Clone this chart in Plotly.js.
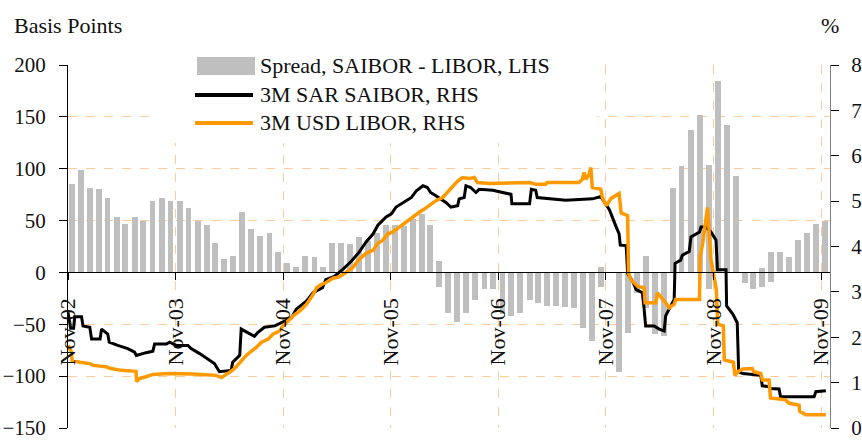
<!DOCTYPE html>
<html>
<head>
<meta charset="utf-8">
<script src="https://cdn.plot.ly/plotly-3.0.1.min.js"></script>
<style>html,body{margin:0;padding:0;background:#fff;}#chart{width:862px;height:441px;}</style>
</head>
<body>
<div id="chart"></div>
<script>
// ---- Data ----
const tickDates = ['2002-11-01','2003-11-01','2004-11-01','2005-11-01','2006-11-01','2007-11-01','2008-11-01','2009-11-01'];
const tickLabels = ['Nov-02','Nov-03','Nov-04','Nov-05','Nov-06','Nov-07','Nov-08','Nov-09'];

const spreadDates = [
 '2002-11-15','2002-12-15','2003-01-15','2003-02-15','2003-03-15','2003-04-15','2003-05-15','2003-06-15','2003-07-15','2003-08-15','2003-09-15','2003-10-15',
 '2003-11-15','2003-12-15','2004-01-15','2004-02-15','2004-03-15','2004-04-15','2004-05-15','2004-06-15','2004-07-15','2004-08-15','2004-09-15','2004-10-15',
 '2004-11-15','2004-12-15','2005-01-15','2005-02-15','2005-03-15','2005-04-15','2005-05-15','2005-06-15','2005-07-15','2005-08-15','2005-09-15','2005-10-15',
 '2005-11-15','2005-12-15','2006-01-15','2006-02-15','2006-03-15','2006-04-15','2006-04-15','2006-05-15','2006-06-15','2006-07-15','2006-08-15','2006-09-15','2006-10-15',
 '2006-11-15','2006-12-15','2007-01-15','2007-02-15','2007-03-15','2007-04-15','2007-05-15','2007-06-15','2007-07-15','2007-08-15','2007-09-15','2007-10-15','2007-10-15',
 '2007-12-15','2008-01-15','2008-02-15','2008-03-15','2008-03-15','2008-04-15','2008-05-15','2008-06-15','2008-07-15','2008-08-15','2008-09-15','2008-10-15','2008-10-15',
 '2008-11-15','2008-12-15','2009-01-15','2009-02-15','2009-03-15','2009-04-15','2009-04-15','2009-05-15','2009-05-15','2009-06-15','2009-07-15','2009-08-15','2009-09-15','2009-10-15',
 '2009-11-15'];
const spreadBp = [
 85,99,81,80,72,53,47,53,50,69,72,69,
 69,62,50,46,28,13,16,58,42,35,38,20,
 9,5,16,15,5,28,28,27,34,30,38,46,
 46,45,52,56,46,11,-14,-39,-48,-39,-27,-16,-16,
 -40,-42,-39,-27,-29,-32,-32,-33,-34,-54,-66,5,-14,
 -96,-58,-20,16,-34,-59,-61,81,103,137,152,104,-16,
 185,142,93,-10,-16,4,-14,20,-9,20,15,31,38,47,
 50];

const saiborDates = ['2002-11-01','2002-11-10','2002-11-20','2002-11-24','2002-12-17','2002-12-22','2003-01-14','2003-01-20','2003-02-18','2003-02-23',
 '2003-03-16','2003-03-21','2003-04-19','2003-05-23','2003-06-15','2003-06-21','2003-07-24','2003-08-16','2003-08-22','2003-10-01',
 '2003-10-12','2003-11-04','2003-12-13','2003-12-24','2004-01-22','2004-02-14','2004-03-12','2004-03-29','2004-05-08','2004-05-13',
 '2004-06-06','2004-06-11','2004-07-15','2004-07-26','2004-08-07','2004-08-29','2004-10-03','2004-10-25','2004-11-29','2004-12-15',
 '2005-01-19','2005-02-10','2005-03-14','2005-03-25','2005-04-23','2005-05-21','2005-06-19','2005-07-17','2005-08-09','2005-09-02',
 '2005-09-18','2005-10-16','2005-11-03','2005-11-19','2005-12-23','2006-01-10','2006-01-27','2006-02-18','2006-03-05','2006-03-16',
 '2006-04-03','2006-05-07','2006-05-24','2006-06-16','2006-06-21','2006-07-08','2006-07-14','2006-07-30','2006-08-17','2006-08-28',
 '2006-10-13','2006-11-16','2006-12-14','2006-12-17','2007-02-15','2007-02-21','2007-03-08','2007-03-13','2007-04-22','2007-06-18',
 '2007-09-17','2007-10-15','2007-10-20','2007-11-13','2007-12-05','2007-12-16','2007-12-20','2008-01-09','2008-01-14','2008-01-31',
 '2008-02-12','2008-03-04','2008-03-10','2008-03-15','2008-04-13','2008-04-30','2008-05-17','2008-05-22','2008-06-14','2008-06-20',
 '2008-06-23','2008-07-12','2008-07-18','2008-08-10','2008-08-16','2008-09-14','2008-09-19','2008-10-06','2008-10-23','2008-11-09',
 '2008-11-14','2008-12-13','2008-12-15','2009-01-05','2009-01-20','2009-01-25','2009-02-08','2009-04-10','2009-04-15','2009-05-08',
 '2009-05-13','2009-06-11','2009-06-16','2009-10-08','2009-10-14','2009-11-17'];
const saiborPct = [2.55,2.20,2.20,2.45,2.45,2.25,2.22,1.96,1.96,2.18,
 2.07,1.89,1.82,1.75,1.67,1.60,1.66,1.69,1.85,1.85,
 1.89,1.82,1.82,1.75,1.64,1.53,1.42,1.24,1.27,1.45,
 1.60,2.18,2.07,2.02,2.11,2.22,2.25,2.32,2.43,2.62,
 2.80,2.98,3.09,3.27,3.34,3.49,3.67,3.88,4.10,4.28,
 4.47,4.65,4.72,4.87,5.01,5.08,5.23,5.34,5.30,5.19,
 5.12,4.97,4.87,4.90,5.05,5.08,5.34,5.30,5.19,5.26,
 5.24,5.19,5.15,4.94,4.94,5.26,5.24,5.08,5.05,5.02,
 5.05,5.10,5.05,4.81,4.45,4.28,4.03,4.02,3.41,3.23,
 3.05,2.98,2.62,2.25,2.25,2.18,2.14,2.47,2.76,2.83,
 3.63,3.70,3.81,3.89,4.21,4.32,4.43,4.43,4.32,4.14,
 3.49,3.49,2.69,2.51,2.32,1.24,1.20,1.16,0.93,0.91,
 0.87,0.86,0.69,0.69,0.80,0.82];

const liborDates = ['2002-11-01','2002-11-13','2002-11-15','2002-12-11','2003-01-14','2003-01-25','2003-03-10','2003-03-27','2003-04-30','2003-06-20',
 '2003-06-22','2003-07-01','2003-07-24','2003-08-16','2003-10-12','2003-12-30','2004-03-18','2004-04-05','2004-04-16','2004-05-08',
 '2004-05-25','2004-06-11','2004-06-28','2004-07-15','2004-08-02','2004-08-19','2004-09-11','2004-09-27','2004-10-20','2004-10-31',
 '2004-11-17','2004-12-04','2004-12-27','2005-01-19','2005-02-10','2005-02-22','2005-03-09','2005-03-25','2005-04-18','2005-05-10',
 '2005-06-02','2005-06-25','2005-07-17','2005-08-09','2005-09-02','2005-09-18','2005-10-05','2005-10-22','2005-11-08','2005-11-30',
 '2005-12-23','2006-01-15','2006-02-07','2006-02-24','2006-03-11','2006-04-03','2006-04-26','2006-05-12','2006-06-04','2006-06-16',
 '2006-07-02','2006-07-25','2006-08-11','2006-08-22','2006-10-02','2007-02-15','2007-03-08','2007-04-11','2007-04-16','2007-08-02',
 '2007-08-13','2007-08-19','2007-08-25','2007-09-05','2007-09-11','2007-09-16','2007-10-15','2007-10-20','2007-11-03','2007-11-19',
 '2007-12-16','2007-12-23','2008-01-14','2008-01-17','2008-01-25','2008-02-17','2008-03-10','2008-03-13','2008-04-19','2008-04-24',
 '2008-05-22','2008-06-03','2008-06-20','2008-06-25','2008-09-14','2008-09-16','2008-09-25','2008-10-11','2008-10-15','2008-10-23',
 '2008-11-04','2008-11-10','2008-11-15','2008-12-04','2008-12-07','2009-01-07','2009-01-12','2009-01-22','2009-02-08','2009-03-12',
 '2009-03-17','2009-04-10','2009-04-15','2009-05-08','2009-05-13','2009-07-03','2009-07-14','2009-08-18','2009-08-20','2009-09-10',
 '2009-11-17'];
const liborPct = [1.82,1.67,1.49,1.45,1.42,1.38,1.35,1.31,1.27,1.25,
 1.02,1.09,1.13,1.18,1.20,1.19,1.16,1.11,1.16,1.25,
 1.35,1.49,1.60,1.69,1.78,1.89,1.96,2.07,2.14,2.25,
 2.36,2.47,2.58,2.73,2.94,3.09,3.16,3.20,3.30,3.33,
 3.43,3.54,3.72,3.85,3.92,4.07,4.14,4.28,4.32,4.43,
 4.54,4.65,4.76,4.83,4.90,5.01,5.08,5.19,5.34,5.44,
 5.52,5.50,5.52,5.41,5.39,5.41,5.37,5.37,5.41,5.41,
 5.48,5.63,5.48,5.59,5.74,5.30,5.26,5.08,4.90,5.06,
 5.17,4.74,4.68,3.41,3.27,3.12,3.09,2.76,2.76,2.98,
 2.76,2.65,2.73,2.83,2.83,3.78,4.07,4.86,4.50,3.70,
 3.27,3.05,2.29,2.25,1.50,1.45,1.16,1.24,1.30,1.31,
 1.24,1.20,1.06,1.06,0.66,0.62,0.55,0.50,0.37,0.29,
 0.29];

const seriesNames = ['Spread, SAIBOR - LIBOR, LHS','3M SAR SAIBOR, RHS','3M USD LIBOR, RHS'];
const colors = {bar:'rgb(191,191,191)', saibor:'#000000', libor:'#FF9900', grid:'rgb(255,204,153)'};

// ---- Traces ----
const DAY = 86400000;
const traces = [
  {type:'bar', name:seriesNames[0], x:spreadDates, y:spreadBp, yaxis:'y', xaxis:'x',
   marker:{color:colors.bar, line:{width:0}}, width:spreadDates.map(()=>20*DAY), showlegend:false},
  {type:'scatter', mode:'lines', name:seriesNames[1], x:saiborDates, y:saiborPct, yaxis:'y2', xaxis:'x',
   line:{color:colors.saibor, width:3}, showlegend:false},
  {type:'scatter', mode:'lines', name:seriesNames[2], x:liborDates, y:liborPct, yaxis:'y2', xaxis:'x',
   line:{color:colors.libor, width:3.5}, showlegend:false}
];

// ---- Layout helpers (pixel -> paper) ----
const L = 68, R = 830, T = 65, B = 428;
const px = v => (v - L) / (R - L);
const py = v => (B - v) / (B - T);

const FONT = '"Liberation Serif", "DejaVu Serif", serif';
const textFont = {family: FONT, size: 22, color: '#111'};
const tickFont = {family: FONT, size: 21, color: '#111'};

const layout = {
  width: 862, height: 441,
  margin: {l: L, r: 862 - R, t: T, b: 441 - B, pad: 0},
  paper_bgcolor: '#fff', plot_bgcolor: '#fff',
  font: {family: FONT, size: 22, color: '#111'},
  showlegend: false,
  bargap: 0,
  xaxis: {
    type: 'date', range: ['2002-11-01', '2009-12-01'],
    tickmode: 'array', tickvals: tickDates, ticktext: tickLabels, tickangle: -90,
    tickfont: textFont,
    anchor: 'free', position: 150 / 350,
    showline: true, linecolor: '#000', linewidth: 1,
    ticks: 'outside', ticklen: 7, tickcolor: '#000', tickwidth: 1,
    ticklabelstandoff: 9, ticklabeloverflow: 'allow',
    showgrid: true, gridcolor: colors.grid, griddash: 'dash', gridwidth: 1,
    zeroline: false, fixedrange: true
  },
  yaxis: {
    range: [-150, 200], tickmode: 'linear', tick0: 0, dtick: 50,
    tickfont: tickFont,
    showline: true, linecolor: '#000', linewidth: 1,
    ticks: 'outside', ticklen: 8, tickcolor: '#000',
    ticklabelstandoff: 9, ticklabeloverflow: 'allow',
    showgrid: true, gridcolor: colors.grid, griddash: 'dash', gridwidth: 1,
    zeroline: false, fixedrange: true
  },
  yaxis2: {
    overlaying: 'y', side: 'right', anchor: 'x',
    range: [0, 8], tickmode: 'linear', tick0: 0, dtick: 1,
    tickfont: tickFont,
    showline: true, linecolor: '#808080', linewidth: 1,
    ticks: 'outside', ticklen: 8, tickcolor: '#000',
    ticklabelstandoff: 8, ticklabeloverflow: 'allow',
    showgrid: false, zeroline: false, fixedrange: true
  },
  shapes: [
    {type:'rect', xref:'paper', yref:'paper', x0:px(153), x1:px(597), y0:py(143), y1:py(40), fillcolor:'#fff', line:{width:0}, layer:'above'},
    {type:'rect', xref:'paper', yref:'paper', x0:px(197), x1:px(255), y0:py(75), y1:py(57), fillcolor:colors.bar, line:{width:0}, layer:'above'},
    {type:'line', xref:'paper', yref:'paper', x0:px(195), x1:px(253), y0:py(95), y1:py(95), line:{color:colors.saibor, width:4}, layer:'above'},
    {type:'line', xref:'paper', yref:'paper', x0:px(195), x1:px(253), y0:py(123), y1:py(123), line:{color:colors.libor, width:4}, layer:'above'}
  ],
  annotations: [
    {xref:'paper', yref:'paper', x:px(258), y:py(65), xanchor:'left', yanchor:'middle', text:seriesNames[0], showarrow:false, font:textFont},
    {xref:'paper', yref:'paper', x:px(258), y:py(94), xanchor:'left', yanchor:'middle', text:seriesNames[1], showarrow:false, font:textFont},
    {xref:'paper', yref:'paper', x:px(258), y:py(122), xanchor:'left', yanchor:'middle', text:seriesNames[2], showarrow:false, font:textFont},
    {xref:'paper', yref:'paper', x:px(12), y:py(26), xanchor:'left', yanchor:'middle', text:'Basis Points', showarrow:false, font:textFont},
    {xref:'paper', yref:'paper', x:px(830), y:py(26), xanchor:'center', yanchor:'middle', text:'%', showarrow:false, font:textFont}
  ]
};

Plotly.newPlot('chart', traces, layout, {displayModeBar: false, staticPlot: true});
</script>
</body>
</html>
